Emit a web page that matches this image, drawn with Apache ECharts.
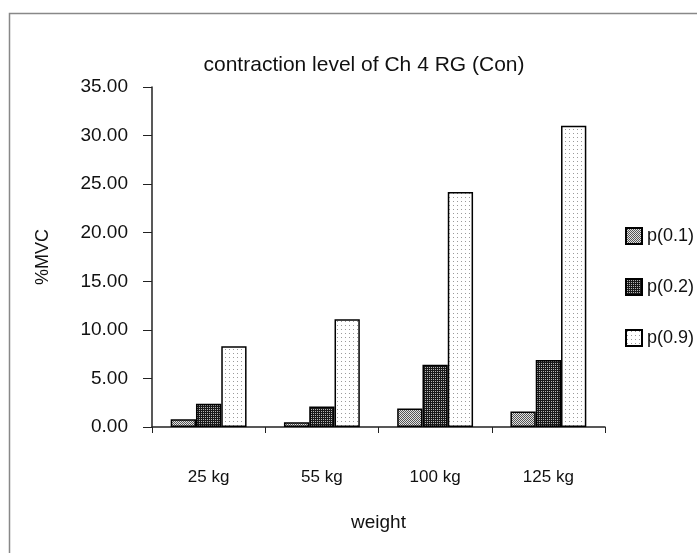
<!DOCTYPE html>
<html>
<head>
<meta charset="utf-8">
<script src="https://cdn.jsdelivr.net/npm/echarts@6/dist/echarts.min.js"></script>
<style>
  html, body { margin: 0; padding: 0; background: #fff; }
  #chart { width: 697px; height: 553px; }
</style>
</head>
<body>
<div id="chart"></div>
<script>
// categories and values
const weights = ['25 kg', '55 kg', '100 kg', '125 kg']
const p01 = [0.8, 0.5, 1.9, 1.6]
const p02 = [2.4, 2.1, 6.4, 6.9]
const p09 = [8.3, 11.1, 24.2, 31.0]
const seriesNames = ['p(0.1)', 'p(0.2)', 'p(0.9)']

// small fill patterns like the old spreadsheet hatching
function makePattern(bg, fg, cells) {
  const c = document.createElement('canvas')
  c.width = 4
  c.height = 4
  const ctx = c.getContext('2d')
  ctx.fillStyle = bg
  ctx.fillRect(0, 0, 4, 4)
  ctx.fillStyle = fg
  cells.forEach(p => ctx.fillRect(p[0], p[1], 1, 1))
  return { image: c, repeat: 'repeat' }
}
const pat1 = makePattern('#e2e2e2', '#555555', [[0, 0], [2, 0], [1, 1], [3, 1], [0, 2], [2, 2], [1, 3], [3, 3]])
const pat2 = makePattern('#1a1a1a', '#b5b5b5', [[1, 1], [3, 3], [1, 3], [3, 1]])
const pat3 = makePattern('#ffffff', '#9a9a9a', [[1, 1]])

const font = 'Liberation Sans, Arial, sans-serif'
const chart = echarts.init(document.getElementById('chart'))

const barStyle = (pat) => ({
  color: pat,
  borderColor: '#000',
  borderWidth: 1.5
})

chart.setOption({
  backgroundColor: '#fff',
  animation: false,
  title: {
    text: 'contraction level of Ch 4 RG (Con)',
    left: 359,
    top: 50,
    textAlign: 'center',
    textStyle: { fontFamily: font, fontSize: 21, fontWeight: 'normal', color: '#111' }
  },
  legend: {
    data: seriesNames,
    orient: 'vertical',
    left: 620,
    top: 222,
    icon: 'rect',
    itemWidth: 16,
    itemHeight: 16,
    itemGap: 33,
    textStyle: { fontFamily: font, fontSize: 18, color: '#111' }
  },
  grid: { left: 152, right: 92, top: 87, bottom: 126, containLabel: false },
  xAxis: {
    type: 'category',
    data: weights,
    name: 'weight',
    nameLocation: 'middle',
    nameGap: 86,
    nameTextStyle: { fontFamily: font, fontSize: 19, color: '#111' },
    axisLine: { lineStyle: { color: '#222', width: 1.5 } },
    axisTick: { show: true, length: 6, lineStyle: { color: '#222' } },
    axisLabel: { margin: 42, fontFamily: font, fontSize: 17, color: '#111' }
  },
  yAxis: {
    type: 'value',
    min: 0,
    max: 35,
    interval: 5,
    name: '%MVC',
    nameLocation: 'middle',
    nameGap: 100,
    nameTextStyle: { fontFamily: font, fontSize: 18, color: '#111' },
    splitLine: { show: false },
    axisLine: { show: true, lineStyle: { color: '#222', width: 1.5 } },
    axisTick: { show: true, length: 9, lineStyle: { color: '#222' } },
    axisLabel: {
      margin: 24,
      fontFamily: font,
      fontSize: 19,
      color: '#111',
      formatter: v => v.toFixed(2)
    }
  },
  graphic: [{
    type: 'rect',
    shape: { x: 9.5, y: 13.5, width: 800, height: 700 },
    style: { fill: 'none', stroke: '#888', lineWidth: 1.5 },
    silent: true
  }],
  series: [
    { name: seriesNames[0], type: 'bar', data: p01, barGap: '0%', barCategoryGap: '33%', itemStyle: barStyle(pat1) },
    { name: seriesNames[1], type: 'bar', data: p02, barGap: '0%', barCategoryGap: '33%', itemStyle: barStyle(pat2) },
    { name: seriesNames[2], type: 'bar', data: p09, barGap: '0%', barCategoryGap: '33%', itemStyle: barStyle(pat3) }
  ]
})
</script>
</body>
</html>
